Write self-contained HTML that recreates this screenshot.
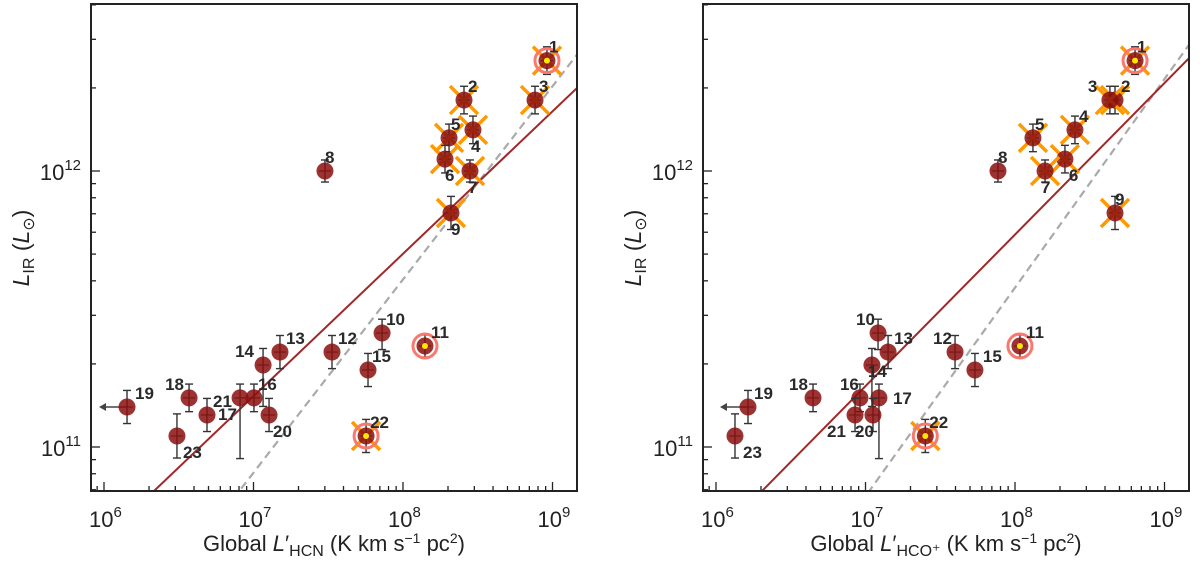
<!DOCTYPE html>
<html><head><meta charset="utf-8">
<style>
html,body{margin:0;padding:0;background:#fff;width:1200px;height:564px;overflow:hidden;}
svg{display:block;font-family:"Liberation Sans","DejaVu Sans",sans-serif;}
.tick{font-size:22px;fill:#222;}
.lab{font-size:17px;font-weight:bold;fill:#2a2a2a;}
</style></head>
<body>
<svg id="chart" width="1200" height="564" viewBox="0 0 1200 564" xmlns="http://www.w3.org/2000/svg"></svg>
<script>
// ---- data (log10 values) ----
const ids = ["1","2","3","4","5","6","7","8","9","10","11","12","13","14","15","16","17","18","19","20","21","22","23"];
const lirLog = [12.40,12.257,12.257,12.149,12.12,12.043,12.0,12.0,11.848,11.413,11.366,11.344,11.344,11.297,11.279,11.178,11.178,11.178,11.145,11.116,11.116,11.04,11.04];
const hcnLog = [8.963,8.408,8.883,8.468,8.308,8.281,8.448,7.478,8.321,7.86,8.147,7.525,7.177,7.064,7.766,7.003,6.91,6.569,6.154,7.104,6.689,7.753,6.488];
const hcoLog = [8.803,8.669,8.635,8.401,8.12,8.334,8.201,7.886,8.669,7.084,8.033,7.599,7.151,7.043,7.732,6.963,7.09,6.649,6.214,7.05,6.93,7.40,6.127];
const errUp = [0.05,0.05,0.05,0.05,0.05,0.05,0.04,0.04,0.06,0.05,0.04,0.06,0.06,0.06,0.06,0.05,0.05,0.05,0.06,0.06,0.06,0.06,0.08];
const errDn = [0.05,0.05,0.05,0.05,0.05,0.05,0.04,0.04,0.06,0.06,0.04,0.06,0.06,0.15,0.06,0.05,0.22,0.05,0.06,0.06,0.06,0.06,0.08];
const crossed = [1,1,1,1,1,1,1,0,1,0,0,0,0,0,0,0,0,0,0,0,0,1,0];
const ringed = [1,0,0,0,0,0,0,0,0,0,1,0,0,0,0,0,0,0,0,0,0,1,0];
const upperLimit = [0,0,0,0,0,0,0,0,0,0,0,0,0,0,0,0,0,0,1,0,0,0,0];
const hcnLabelDx = [2,4,4,-2,2,0,-2,0,0,4,6,6,6,-28,4,4,-22,-24,8,4,6,4,6];
const hcnLabelDy = [-8,-8,-8,22,-8,22,22,-8,22,-8,-8,-8,-8,-8,-8,-8,22,-8,-8,22,-8,-8,22];
const hcoLabelDx = [2,6,-22,4,2,4,-4,0,0,-22,6,-22,6,-4,8,-20,14,-24,6,-18,-28,4,8];
const hcoLabelDy = [-8,-8,-8,-8,-8,22,22,-8,-8,-8,-8,-8,-8,12,-8,-8,6,-8,-8,22,22,-8,22];
const hcnFit = [0.516, 10.844, 6.341];  // slope, y at x0, x0
const hcnDash = [0.70, 10.844, 6.910];
const hcoFit = [0.549, 10.844, 6.314];
const hcoDash = [0.756, 10.844, 7.030];
const xTickLabels = ["6","7","8","9"];
const yTickLabels = ["11","12"];

const NS="http://www.w3.org/2000/svg";
const svg=document.getElementById('chart');
function mk(tag,attrs,parent){const e=document.createElementNS(NS,tag);for(const k in attrs)e.setAttribute(k,attrs[k]);(parent||svg).appendChild(e);return e;}

function panel(P){
  const g=mk('g',{});
  
  
  const X=v=>P.x10+(v-6)*149.5;
  const Y=v=>171-(v-12)*276;
  const L=P.left,R=P.right,T=4,B=491;
  const clip=mk('clipPath',{id:'clip'+P.key},g);
  mk('rect',{x:L,y:T,width:R-L,height:B-T},clip);
  for(let d=5;d<=9;d++){
    for(let m=1;m<=9;m++){
      const px=X(d+Math.log10(m));
      if(px<L||px>R)continue;
      const t=mk('line',{x1:px,x2:px,y1:B,y2:B-(m==1?9:5),stroke:'#222','stroke-width':1.3},g);
      
      
    }
  }
  xTickLabels.forEach((s,i)=>{
    const px=X(6+i);
    const tx=mk('text',{x:px-15,y:527,class:'tick'},g);
    
    
    tx.textContent='10';
    const sp=mk('tspan',{dy:-10,'font-size':15},tx);sp.textContent=s;
  });
  for(let d=10;d<=12;d++){
    for(let m=1;m<=9;m++){
      const py=Y(d+Math.log10(m));
      if(py<T||py>B)continue;
      const t=mk('line',{x1:L,x2:L+(m==1?9:5),y1:py,y2:py,stroke:'#222','stroke-width':1.3},g);
      
      
    }
  }
  yTickLabels.forEach((s,i)=>{
    const py=Y(11+i);
    const tx=mk('text',{x:L-10,y:py+9,class:'tick','text-anchor':'end'},g);
    
    
    tx.appendChild(document.createTextNode('10'));
    const sp=mk('tspan',{dy:-10,'font-size':15},tx);sp.textContent=s;
  });
  const xl=mk('text',{x:(L+R)/2,y:551,'font-size':22,fill:'#222','text-anchor':'middle'},g);
  
  
  xl.innerHTML='Global <tspan font-style="italic">L</tspan>\u2032<tspan font-size="16" dy="5">'+P.sub+'</tspan><tspan dy="-5"> (K km s</tspan><tspan font-size="14" dy="-8">\u22121</tspan><tspan dy="8"> pc</tspan><tspan font-size="14" dy="-8">2</tspan><tspan dy="8">)</tspan>';
  const yl=mk('text',{x:0,y:0,'font-size':23,fill:'#222','text-anchor':'middle',transform:'translate('+(L-62)+',248) rotate(-90)'},g);
  
  
  yl.innerHTML='<tspan font-style="italic">L</tspan><tspan font-size="16" dy="5">IR</tspan><tspan dy="-5"> (</tspan><tspan font-style="italic">L</tspan><tspan font-size="16" dy="5">\u2299</tspan><tspan dy="-5">)</tspan>';
  const cg=mk('g',{'clip-path':'url(#clip'+P.key+')'},g);
  function fitLine(f,attrs,name){
    const xa=5.8,xb=9.3;
    const ln=mk('line',Object.assign({x1:X(xa),y1:Y(f[1]+f[0]*(xa-f[2])),x2:X(xb),y2:Y(f[1]+f[0]*(xb-f[2]))},attrs),cg);
    
    
  }
  fitLine(P.dash,{stroke:'#aaa','stroke-width':2.2,'stroke-dasharray':'8,5'},'dashed-reference-line');
  fitLine(P.fit,{stroke:'#a02828','stroke-width':2},'best-fit-line');
  ids.forEach((id,i)=>{
    const cx=X(P.xs[i]),cy=Y(lirLog[i]);
    const pg=mk('g',{},cg);
    
    
    const y1=Y(lirLog[i]+errUp[i]),y2=Y(lirLog[i]-errDn[i]);
    mk('line',{x1:cx,x2:cx,y1:y1,y2:y2,stroke:'#333','stroke-width':1.4},pg);
    mk('line',{x1:cx-4,x2:cx+4,y1:y1,y2:y1,stroke:'#333','stroke-width':1.4},pg);
    mk('line',{x1:cx-4,x2:cx+4,y1:y2,y2:y2,stroke:'#333','stroke-width':1.4},pg);
    mk('line',{x1:cx-6,x2:cx+6,y1:cy,y2:cy,stroke:'#333','stroke-width':1.2},pg);
    if(upperLimit[i]){
      mk('line',{x1:cx,x2:cx-24,y1:cy,y2:cy,stroke:'#444','stroke-width':1.5},pg);
      mk('path',{d:'M'+(cx-28)+','+cy+' l7,-4 l0,8z',fill:'#444'},pg);
    }
    if(crossed[i]){
      mk('line',{x1:cx-14,y1:cy-14,x2:cx+14,y2:cy+14,stroke:'#ff9900','stroke-width':3.5},pg);
      mk('line',{x1:cx-14,y1:cy+14,x2:cx+14,y2:cy-14,stroke:'#ff9900','stroke-width':3.5},pg);
    }
    mk('circle',{cx:cx,cy:cy,r:8.5,fill:'#8b0f0f','fill-opacity':0.85},pg);
    if(ringed[i]){
      mk('circle',{cx:cx,cy:cy,r:12,fill:'none',stroke:'#f87a6e','stroke-width':3},pg);
      mk('circle',{cx:cx,cy:cy,r:3,fill:'#ffe600'},pg);
    }
    const lb=mk('text',{x:cx+P.ldx[i],y:cy+P.ldy[i],class:'lab'},g);
    
    
    lb.textContent=id;
  });
  const fr=mk('rect',{x:L,y:T,width:R-L,height:B-T,fill:'none',stroke:'#222','stroke-width':2},g);
  
  
}
panel({key:'a',name:'hcn-panel',left:91,right:577,x10:104,xs:hcnLog,sub:'HCN',fit:hcnFit,dash:hcnDash,ldx:hcnLabelDx,ldy:hcnLabelDy});
panel({key:'b',name:'hco-panel',left:703,right:1189,x10:716,xs:hcoLog,sub:'HCO\u207A',fit:hcoFit,dash:hcoDash,ldx:hcoLabelDx,ldy:hcoLabelDy});
</script>
</body></html>
